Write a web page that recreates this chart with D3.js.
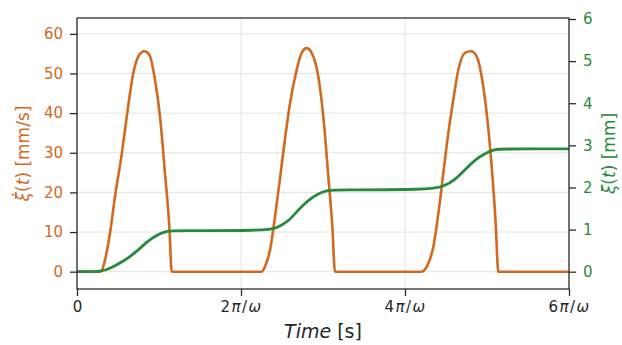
<!DOCTYPE html>
<html>
<head>
<meta charset="utf-8">
<script src="https://cdn.jsdelivr.net/npm/d3@7"></script>
<style>
  body { margin: 0; background: #fff; }
  svg text { font-family: "DejaVu Sans", sans-serif; }
</style>
</head>
<body>
<div id="chart"></div>
<script>
const WIDTH = 622;
const HEIGHT = 345;
const margin = { top: 18, right: 53, bottom: 56, left: 77 };

const ORANGE = "#d2691e";
const GREEN = "#2a8a3c";
const DARK = "#262626";

// time in units of pi/omega
const velTime = [0, 0.280, 0.310, 0.341, 0.402, 0.463, 0.545, 0.606, 0.687, 0.748, 0.821, 0.882, 0.951, 1.012, 1.073, 1.126, 1.155,
    2.252, 2.293, 2.354, 2.415, 2.476, 2.537, 2.598, 2.679, 2.740, 2.801, 2.862, 2.943, 3.004, 3.065, 3.114, 3.146,
    4.203, 4.285, 4.346, 4.407, 4.467, 4.528, 4.589, 4.650, 4.732, 4.805, 4.874, 4.935, 4.996, 5.057, 5.106, 5.138, 6];
// velocity [mm/s]
const velValues = [0, 0, 0.7, 2.9, 9.7, 18.9, 29.6, 39.0, 50.1, 54.3, 55.6, 54.7, 48.4, 39.1, 24.8, 11.4, 0,
    0, 1.3, 5.5, 13.9, 23.6, 33.6, 42.5, 50.9, 55.2, 56.4, 55.2, 49.2, 39.1, 24.0, 11.4, 0,
    0, 2.1, 6.3, 14.7, 24.8, 34.9, 43.4, 50.9, 55.2, 55.6, 54.3, 49.2, 40.0, 26.5, 12.2, 0, 0];

const dispTime = [0, 0.317, 0.402, 0.565, 0.728, 0.850, 0.972, 1.094, 1.174,
    2.300, 2.430, 2.577, 2.699, 2.821, 2.943, 3.065, 3.146,
    4.300, 4.470, 4.610, 4.732, 4.854, 4.976, 5.098, 5.170, 6];
// displacement [mm]
const dispValues = [0, 0, 0.08, 0.24, 0.475, 0.71, 0.87, 0.965, 0.975,
    0.975, 1.03, 1.19, 1.47, 1.70, 1.86, 1.935, 1.945,
    1.945, 2.02, 2.18, 2.42, 2.66, 2.81, 2.905, 2.915, 2.915];

const xTicks = [0, 2, 4, 6];
const velTicks = [0, 10, 20, 30, 40, 50, 60];
const dispTicks = [0, 1, 2, 3, 4, 5, 6];

const innerW = WIDTH - margin.left - margin.right;
const innerH = HEIGHT - margin.top - margin.bottom;

const svg = d3.select("#chart")
    .append("svg")
    .attr("width", WIDTH)
    .attr("height", HEIGHT);

const g = svg.append("g")
    .attr("transform", `translate(${margin.left}, ${margin.top})`);

const x = d3.scaleLinear().domain([0, 6]).range([0, innerW]);
const yVel = d3.scaleLinear().domain([-4.37, 64.0]).range([innerH, 0]);
const yDisp = d3.scaleLinear().domain([-0.411, 6.024]).range([innerH, 0]);

/* GRID */
g.append("g")
    .selectAll("line")
    .data(velTicks)
    .join("line")
    .attr("x1", 0).attr("x2", innerW)
    .attr("y1", d => yVel(d)).attr("y2", d => yVel(d))
    .attr("stroke", "#e3e3e3").attr("stroke-width", 1);

g.append("g")
    .selectAll("line")
    .data(xTicks)
    .join("line")
    .attr("y1", 0).attr("y2", innerH)
    .attr("x1", d => x(d)).attr("x2", d => x(d))
    .attr("stroke", "#e3e3e3").attr("stroke-width", 1);

/* LINES */
const velLine = d3.line()
    .x((d, i) => x(velTime[i]))
    .y(d => yVel(d))
    .curve(d3.curveMonotoneX);

// displacement is a smooth S per stroke, basis smooths the read-off points
const dispLine = d3.line()
    .x((d, i) => x(dispTime[i]))
    .y(d => yDisp(d))
    .curve(d3.curveBasis);

g.append("path")
    .datum(velValues)
    .attr("d", velLine)
    .attr("fill", "none")
    .attr("stroke", ORANGE)
    .attr("stroke-width", 2.6)
    .attr("stroke-linejoin", "round");

g.append("path")
    .datum(dispValues)
    .attr("d", dispLine)
    .attr("fill", "none")
    .attr("stroke", GREEN)
    .attr("stroke-width", 2.8)
    .attr("stroke-linejoin", "round");

/* AXES */
const styleAxis = function (sel, color) {
    sel.attr("font-size", 15).attr("font-family", "DejaVu Sans, sans-serif");
    sel.select(".domain").remove();
    sel.selectAll(".tick line").attr("stroke", DARK).attr("stroke-width", 1.25);
    sel.selectAll(".tick text").attr("fill", color);
}

const xAxis = g.append("g")
    .attr("transform", `translate(0, ${innerH})`)
    .call(d3.axisBottom(x).tickValues(xTicks).tickSize(7).tickPadding(5));
styleAxis(xAxis, DARK);

// write pi/omega labels with italic symbols, spaced like mathtext
xAxis.selectAll(".tick text").each(function (d) {
    const t = d3.select(this).text("");
    if (d === 0) { t.text("0"); return; }
    t.style("letter-spacing", "1.5px");
    t.append("tspan").text(d);
    t.append("tspan").style("font-style", "italic").text("π");
    t.append("tspan").text("/");
    t.append("tspan").style("font-style", "italic").text("ω");
});

const leftAxis = g.append("g")
    .call(d3.axisLeft(yVel).tickValues(velTicks).tickFormat(d3.format("d")).tickSize(7).tickPadding(7));
styleAxis(leftAxis, ORANGE);

const rightAxis = g.append("g")
    .attr("transform", `translate(${innerW}, 0)`)
    .call(d3.axisRight(yDisp).tickValues(dispTicks).tickFormat(d3.format("d")).tickSize(7).tickPadding(7));
styleAxis(rightAxis, GREEN);

// frame
g.append("rect")
    .attr("width", innerW).attr("height", innerH)
    .attr("fill", "none")
    .attr("stroke", DARK)
    .attr("stroke-width", 1.25);

/* LABELS */
const xLabel = svg.append("text")
    .attr("x", margin.left + innerW / 2)
    .attr("y", 338)
    .attr("text-anchor", "middle")
    .attr("fill", DARK)
    .style("font-size", "19px");
xLabel.append("tspan").style("font-style", "italic").text("Time");
xLabel.append("tspan").text(" [s]");

const yLabelL = svg.append("text")
    .attr("transform", `translate(29, ${margin.top + innerH / 2}) rotate(-90)`)
    .attr("text-anchor", "middle")
    .attr("fill", ORANGE)
    .style("font-size", "17px");
yLabelL.append("tspan").style("font-style", "italic").text("ξ\u0307");
yLabelL.append("tspan").text("(");
yLabelL.append("tspan").style("font-style", "italic").text("t");
yLabelL.append("tspan").text(") [mm/s]");

const yLabelR = svg.append("text")
    .attr("transform", `translate(615, ${margin.top + innerH / 2}) rotate(-90)`)
    .attr("text-anchor", "middle")
    .attr("fill", GREEN)
    .style("font-size", "17px");
yLabelR.append("tspan").style("font-style", "italic").text("ξ");
yLabelR.append("tspan").text("(");
yLabelR.append("tspan").style("font-style", "italic").text("t");
yLabelR.append("tspan").text(") [mm]");
</script>
</body>
</html>
